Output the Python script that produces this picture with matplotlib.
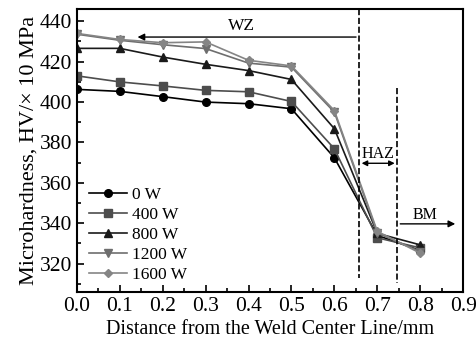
import matplotlib
matplotlib.use("Agg")
import matplotlib.pyplot as plt
from matplotlib.ticker import MultipleLocator

plt.rcParams["font.family"] = ["Liberation Serif", "DejaVu Serif"]

distance = [0.0, 0.1, 0.2, 0.3, 0.4, 0.5, 0.6, 0.7, 0.8]
hv_0w = [406.3, 405.3, 402.7, 400.0, 399.2, 396.7, 372.4, 334.0, 326.5]
hv_400w = [413.0, 410.0, 408.0, 405.8, 405.1, 400.3, 376.9, 332.8, 327.8]
hv_800w = [426.6, 426.6, 422.3, 418.7, 415.6, 411.2, 386.8, 335.0, 329.3]
hv_1200w = [433.6, 430.6, 428.4, 426.5, 419.3, 417.3, 395.0, 335.2, 326.0]
hv_1600w = [434.0, 431.0, 429.4, 429.8, 420.7, 417.9, 395.8, 336.0, 325.2]

series = [
    ("0 W", hv_0w, "o", "#000000"),
    ("400 W", hv_400w, "s", "#4d4d4d"),
    ("800 W", hv_800w, "^", "#1a1a1a"),
    ("1200 W", hv_1200w, "v", "#6e6e6e"),
    ("1600 W", hv_1600w, "D", "#858585"),
]

fig = plt.figure(figsize=(4.77, 3.53), dpi=100)
ax = fig.add_axes([0.161, 0.173, 0.81, 0.801])

for label, vals, mk, col in series:
    ax.plot(distance, vals, marker=mk, color=col, lw=1.2,
            ms=5.5 if mk != "D" else 4.5, label=label)

# zone boundaries
ax.plot([0.657, 0.657], [446, 313], ls="--", color="black", lw=1.2)
ax.plot([0.747, 0.747], [407, 310.5], ls="--", color="black", lw=1.2)

arrow = dict(arrowstyle="-|>", color="black", lw=1, mutation_scale=10)
ax.annotate("", xy=(0.135, 432.2), xytext=(0.657, 432.2), arrowprops=arrow)
ax.annotate("", xy=(0.657, 369.7), xytext=(0.747, 369.7),
            arrowprops=dict(arrowstyle="<|-|>", color="black", lw=1, mutation_scale=8))
ax.annotate("", xy=(0.888, 339.7), xytext=(0.747, 339.7), arrowprops=arrow)
ax.text(0.384, 437.5, "WZ", ha="center", va="center", fontsize=12.5)
ax.text(0.702, 374.5, "HAZ", ha="center", va="center", fontsize=11.5)
ax.text(0.811, 344, "BM", ha="center", va="center", fontsize=11.5)

ax.set_xlim(0, 0.9)
ax.set_ylim(306, 446)
ax.xaxis.set_major_locator(MultipleLocator(0.1))
ax.xaxis.set_minor_locator(MultipleLocator(0.05))
ax.yaxis.set_major_locator(MultipleLocator(20))
ax.yaxis.set_minor_locator(MultipleLocator(10))
ax.tick_params(which="both", direction="in", labelsize=15.5, width=1.2)
ax.tick_params(which="major", length=5)
ax.tick_params(which="minor", length=3)
for s in ax.spines.values():
    s.set_linewidth(1.5)

ax.set_xlabel("Distance from the Weld Center Line/mm", fontsize=14.5, labelpad=3)
ax.set_ylabel("Microhardness, HV/\u00d7 10 MPa", fontsize=16, labelpad=1)

ax.legend(loc="lower left", bbox_to_anchor=(0.0, -0.01), frameon=False,
          fontsize=12.5, handlelength=2.2, handletextpad=0.3, labelspacing=0.22,
          borderaxespad=0.3)

fig.savefig("out.png", dpi=100)
